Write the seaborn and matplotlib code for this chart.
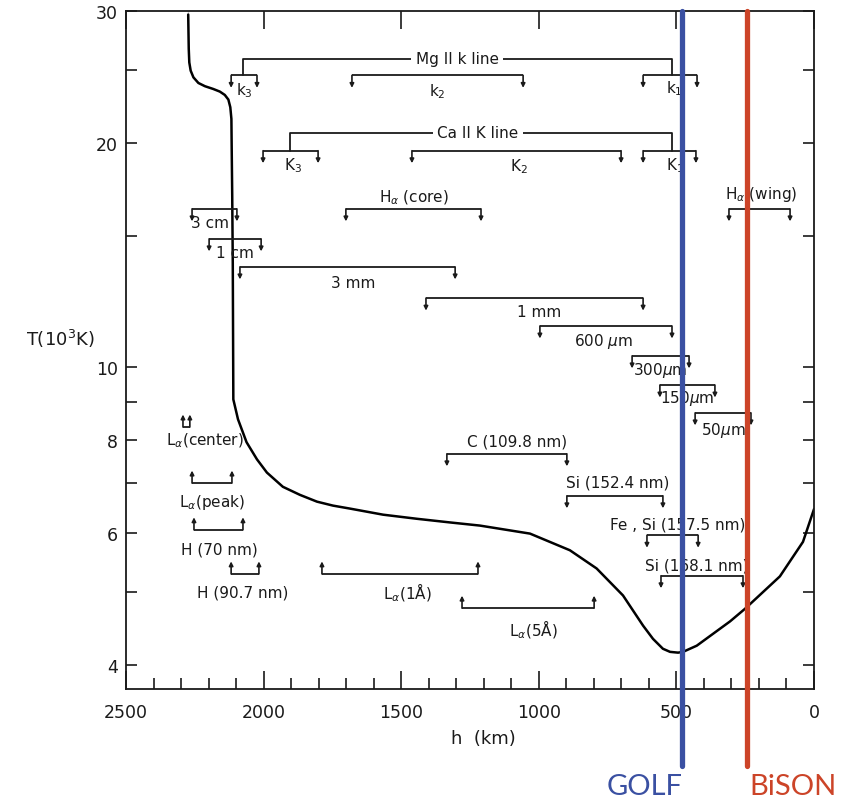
import numpy as np
import pandas as pd
import matplotlib
matplotlib.use("Agg")
import matplotlib.pyplot as plt
import seaborn as sns
from matplotlib.ticker import FixedLocator, NullFormatter, FixedFormatter

# Temperature structure of the quiet-Sun atmosphere: height (km) vs T (10^3 K)
height_km = [2274, 2274, 2272, 2270, 2265, 2255, 2237, 2213, 2183, 2159, 2141,
             2128, 2121, 2117, 2116, 2114, 2112, 2110, 2093, 2062, 2024, 1988,
             1930, 1868, 1806, 1748, 1686, 1566, 1443, 1323, 1214, 1032, 887,
             790, 694, 621, 585, 549, 523, 494, 476, 426, 305, 251, 124, 40, 0]
temp_kK = [31.0, 28.4, 26.7, 25.6, 24.96, 24.45, 24.03, 23.79, 23.59, 23.40, 23.16,
           22.83, 22.30, 21.51, 19.77, 16.94, 13.76, 9.06, 8.52, 7.94, 7.53, 7.23,
           6.92, 6.75, 6.61, 6.53, 6.47, 6.35, 6.27, 6.20, 6.14, 5.99, 5.69,
           5.38, 4.95, 4.51, 4.33, 4.20, 4.16, 4.15, 4.16, 4.24, 4.57, 4.75, 5.25, 5.84, 6.46]

# Formation-height ranges of spectral features: label, h from, h to, bar temperature
feature_labels = ["k$_3$", "k$_2$", "k$_1$",
                  "K$_3$", "K$_2$", "K$_1$",
                  "H$_\\alpha$ (core)", "H$_\\alpha$ (wing)",
                  "3 cm", "1 cm", "3 mm", "1 mm", "600 $\\mu$m",
                  "300$\\mu$m", "150$\\mu$m", "50$\\mu$m",
                  "C (109.8 nm)", "Si (152.4 nm)", "Fe , Si (157.5 nm)", "Si (168.1 nm)",
                  "L$_\\alpha$(center)", "L$_\\alpha$(peak)", "H (70 nm)", "H (90.7 nm)",
                  "L$_\\alpha$(1Å)", "L$_\\alpha$(5Å)"]
feature_h_high = [2118, 1679, 621,
                  2002, 1461, 621,
                  1701, 309,
                  2260, 2198, 2086, 1410, 996,
                  661, 560, 432,
                  1334, 898, 607, 556,
                  2293, 2260, 2253, 2118,
                  1788, 1279]
feature_h_low = [2024, 1057, 425,
                 1802, 701, 429,
                 1210, 87,
                 2097, 2009, 1304, 621, 516,
                 454, 360, 229,
                 898, 549, 421, 258,
                 2268, 2115, 2075, 2017,
                 1221, 799]
feature_T = [24.6, 24.6, 24.6,
             19.5, 19.5, 19.5,
             16.3, 16.3,
             16.3, 14.86, 13.63, 12.38, 11.36,
             10.36, 9.47, 8.69,
             7.66, 6.73, 5.96, 5.26,
             8.32, 7.00, 6.06, 5.29,
             5.29, 4.76]

# Line groups joined by a common title
group_titles = ["Mg II k line", "Ca II K line"]
group_title_T = [25.9, 20.6]
group_title_h = [1297, 1221]
group_link_h = [[2075, 516], [1904, 516]]
group_bar_T = [24.6, 19.5]

# Instrument sampling heights
instruments = ["GOLF", "BiSON"]
instrument_h = [481, 245]
instrument_colors = ["#3a50a2", "#cc4428"]

sns.set_theme(style="ticks")
plt.rcParams["font.family"] = ["DejaVu Sans"]
plt.rcParams["mathtext.fontset"] = "dejavusans"

W, H = 842, 803
fig = plt.figure(figsize=(W / 100, H / 100), dpi=100)
ax = fig.add_axes([126 / W, 1 - 690 / H, (814 - 126) / W, (690 - 12) / H])

ax.set_yscale("log")
ax.set_xlim(2500, 0)
ax.set_ylim(3.71, 30)

curve = pd.DataFrame({"h": height_km, "T": temp_kK})
sns.lineplot(data=curve, x="h", y="T", sort=False, color="black", lw=1.8, ax=ax)

ink = "#1a1a1a"
fs = 11

# arrow direction and label placement for each feature bracket
up_arrow = [False] * 20 + [True] * 6
label_dy = [-10, -11, -9,
            -10, -11, -10,
            9, 11,
            -9.5, -9.5, -11, -10, -10.5,
            -9.5, -9, -12,
            9.5, 10, 8, 8,
            -9, -13, -14, -13,
            -13, -15]
label_dx = [0, 0, 3,
            2, 2, 4,
            0, 1,
            -3, 0, 4, 3, -2,
            0, 0, 0,
            7, 2, 4, -4,
            11, 0, 1, -2,
            5, 4]

for lab, h1, h2, T, up, dy, dx in zip(feature_labels, feature_h_high, feature_h_low,
                                       feature_T, up_arrow, label_dy, label_dx):
    ax.plot([h1, h2], [T, T], color=ink, lw=1.3, solid_capstyle="butt", zorder=3)
    for hh in (h1, h2):
        ax.annotate("", xy=(hh, T), xytext=(0, 9 if up else -9),
                    textcoords="offset points",
                    arrowprops=dict(arrowstyle="<|-", color=ink, lw=1.2,
                                    mutation_scale=6, shrinkA=0, shrinkB=0),
                    zorder=3)
    hc = 0.5 * (h1 + h2)
    if "center" in lab:
        hc = h2
    ax.annotate(lab, xy=(hc, T), xytext=(dx, dy), textcoords="offset points",
                ha="center", va="center", fontsize=fs, color=ink, zorder=3)

for title, Tt, ht, links, Tb in zip(group_titles, group_title_T, group_title_h,
                                    group_link_h, group_bar_T):
    ax.plot([links[0], links[0], links[1], links[1]], [Tb, Tt, Tt, Tb],
            color=ink, lw=1.3, zorder=3)
    ax.text(ht, Tt, title, ha="center", va="center", fontsize=fs, color=ink,
            zorder=4, bbox=dict(fc="white", ec="none", pad=3))

# axes, ticks
ax.xaxis.set_major_locator(FixedLocator([2500, 2000, 1500, 1000, 500, 0]))
ax.xaxis.set_minor_locator(FixedLocator([v for v in range(0, 2501, 100) if v % 500]))
ax.yaxis.set_major_locator(FixedLocator([4, 6, 8, 10, 20, 30]))
ax.yaxis.set_major_formatter(FixedFormatter(["4", "6", "8", "10", "20", "30"]))
ax.yaxis.set_minor_locator(FixedLocator([5, 7, 9, 15, 25]))
ax.yaxis.set_minor_formatter(NullFormatter())
ax.tick_params(axis="x", which="major", direction="in", length=13, width=1.2,
               top=True, labelsize=12.5, pad=10, colors=ink)
ax.tick_params(axis="x", which="minor", direction="in", length=8, width=1.2,
               top=False, colors=ink)
ax.tick_params(axis="y", which="both", direction="in", length=8, width=1.2,
               right=True, labelsize=12.5, pad=6, colors=ink)
for s in ax.spines.values():
    s.set_linewidth(1.3)
    s.set_color(ink)

ax.set_xlabel("h  (km)", fontsize=13, color=ink)
ax.xaxis.set_label_coords((483 - 126) / 688, -(730 - 690) / 678)
ax.set_ylabel("T(10$^3$K)", fontsize=13, rotation=0, color=ink)
ax.yaxis.set_label_coords(-0.095, (690 - 350) / 678)

for name, hh, col in zip(instruments, instrument_h, instrument_colors):
    ax.axvline(hh, ymin=-0.1136, ymax=1.0, color=col, lw=3.8, clip_on=False, zorder=6)

fig.text(645 / W, 1 - 787 / H, instruments[0], color=instrument_colors[0],
         fontsize=21, family="Lato", ha="center", va="center")
fig.text(793 / W, 1 - 787 / H, instruments[1], color=instrument_colors[1],
         fontsize=21, family="Lato", ha="center", va="center")

fig.savefig("out.png", dpi=100, facecolor="white")
